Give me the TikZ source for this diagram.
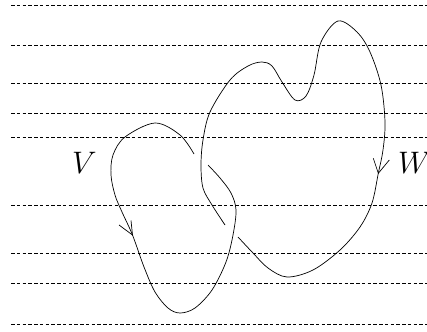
\documentclass[tikz,border=0pt]{standalone}
\usepackage{graphicx}
\usetikzlibrary{calc}
\begin{document}
\begin{tikzpicture}[x=1pt,y=-1pt,
  guide/.style={dash pattern=on 3.5pt off 2.25pt, line width=0.6pt},
  curve/.style={line width=0.7pt},
  barb/.style={line width=0.7pt},
  lbl/.style={inner sep=0pt}]
\useasboundingbox (0,0) rectangle (427,331);
\clip (0,0) rectangle (427,331);
% dashed guide lines
\foreach \yy in {5,45,83,113,137,205,253,283,324}
  \draw[guide] (11,\yy) -- (430,\yy);
% V loop
\draw[curve] plot[smooth, tension=0.55] coordinates {
  (194,154) (180,135) (155,123) (125,137) (113,155) (111,175) (115,195)
  (122,212) (132.5,235) (144,267) (155,292) (168,308) (180,313) (195,308)
  (212,290) (226,262) (233,235) (236,210) (231,193) (220,178) (208,165)};
% W loop
\draw[curve] plot[smooth, tension=0.55] coordinates {
  (225,225) (212,205) (203,188) (201,165) (203,140) (210,112) (230,80)
  (248,66) (262,62) (272,66) (282,82) (295,100) (306,96) (314,75)
  (321,42) (338,21) (357,32) (370,52) (381,85) (385,122) (383,150)
  (378.3,173.3) (372,203) (360,227) (340,250) (313,270) (287,277)
  (268,268) (253,253) (238,237)};
% arrowheads
\coordinate (vt) at (132.5,235);
\draw[barb] (119,225) -- (vt) -- (131,220.5);
\coordinate (wt) at (378.3,173.3);
\draw[barb] (373.3,158.3) -- (wt) -- (389.3,160);
% labels
\node[lbl, anchor=base west] (V) at (72,173) {\scalebox{1.25}{\Huge $V$}};
\node[lbl, anchor=base west] (W) at (398,173) {\scalebox{1.25}{\Huge $W$}};
\end{tikzpicture}
\end{document}
